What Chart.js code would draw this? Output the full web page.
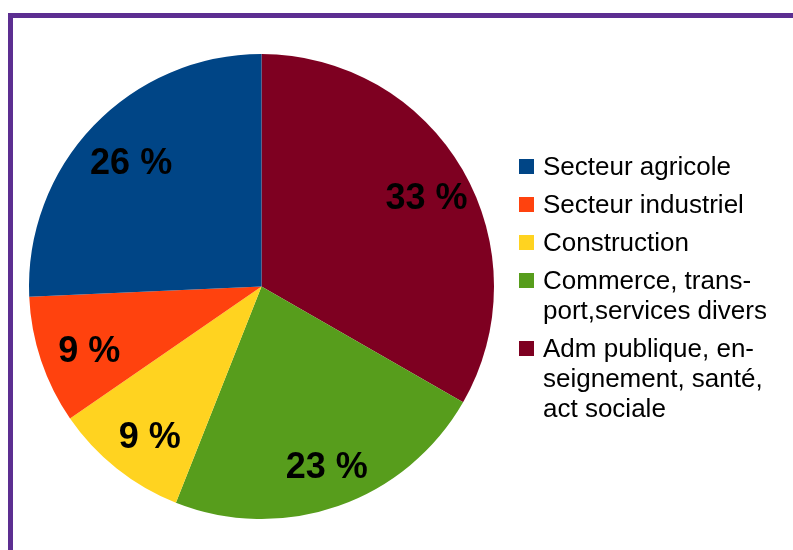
<!DOCTYPE html>
<html>
<head>
<meta charset="utf-8">
<script src="https://cdn.jsdelivr.net/npm/chart.js@4"></script>
<style>
    body { margin: 0; background: #fff; font-family: "Liberation Sans", Arial, sans-serif; }
    #wrap { position: relative; width: 793px; height: 550px; overflow: hidden; }
    #frame { position: absolute; left: 8px; top: 13px; right: -10px; bottom: -10px;
             border-top: 5px solid #5c2e91; border-left: 5px solid #5c2e91; }
    #chart { position: absolute; left: 0; top: 0; }
    #legend { position: absolute; left: 519px; top: 151px; font-size: 26px; color: #000; }
    .item { display: flex; align-items: flex-start; margin-bottom: 8px; }
    .box { width: 15px; height: 15px; margin-top: 8px; margin-right: 9px; flex: none; }
    .txt { line-height: 30px; white-space: nowrap; }
</style>
</head>
<body>
<div id="wrap">
    <div id="frame"></div>
    <canvas id="chart" width="793" height="550"></canvas>
    <div id="legend"></div>
</div>
<script>
// donnees (legend order)
const categories = [
    'Secteur agricole',
    'Secteur industriel',
    'Construction',
    ['Commerce, trans-', 'port,services divers'],
    ['Adm publique, en-', 'seignement, santé,', 'act sociale']
];
const values = [25.7, 8.9, 9.4, 22.7, 33.3];
const colors = ['#004586', '#ff420e', '#ffd320', '#579d1c', '#7e0021'];

// LibreOffice draws counter-clockwise, Chart.js clockwise -> reverse
const order = values.map((v, i) => i).reverse();

const pieLabels = {
    id: 'pieLabels',
    afterDatasetsDraw(chart) {
        const ctx = chart.ctx;
        const meta = chart.getDatasetMeta(0);
        ctx.save();
        ctx.font = 'bold 36px "Liberation Sans", Arial, sans-serif';
        ctx.fillStyle = '#000';
        ctx.textAlign = 'center';
        ctx.textBaseline = 'middle';
        meta.data.forEach((arc, i) => {
            const p = arc.getProps(['x', 'y', 'startAngle', 'endAngle', 'outerRadius'], true);
            const mid = (p.startAngle + p.endAngle) / 2;
            const r = p.outerRadius * 0.8;
            const val = chart.data.datasets[0].data[i];
            ctx.fillText(Math.round(val) + ' %', p.x + Math.cos(mid) * r + 4, p.y + Math.sin(mid) * r + 6);
        });
        ctx.restore();
    }
};

const ctx = document.getElementById('chart').getContext('2d');
const pieChart = new Chart(ctx, {
    type: 'pie',
    data: {
        labels: order.map(i => categories[i]),
        datasets: [{
            data: order.map(i => values[i]),
            backgroundColor: order.map(i => colors[i]),
            borderWidth: 0
        }]
    },
    options: {
        responsive: false,
        animation: false,
        layout: { padding: { left: 29, top: 54, right: 299, bottom: 31 } },
        plugins: {
            legend: { display: false },
            tooltip: { enabled: false }
        }
    },
    plugins: [pieLabels]
});

// legende HTML
const legendEl = document.getElementById('legend');
categories.forEach((cat, i) => {
    const item = document.createElement('div');
    item.className = 'item';
    const box = document.createElement('div');
    box.className = 'box';
    box.style.background = colors[i];
    const txt = document.createElement('div');
    txt.className = 'txt';
    txt.innerHTML = [].concat(cat).join('<br>');
    item.appendChild(box);
    item.appendChild(txt);
    legendEl.appendChild(item);
});
</script>
</body>
</html>
